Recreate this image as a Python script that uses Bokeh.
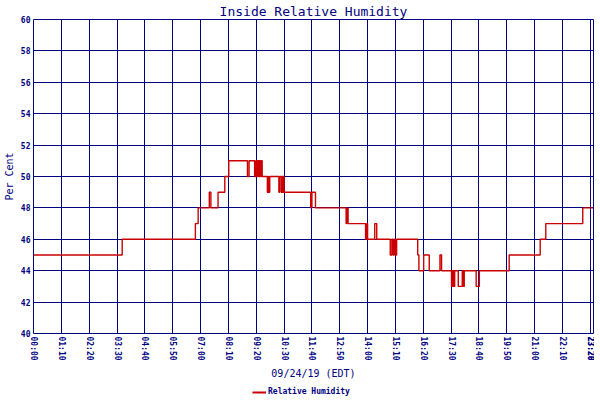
from bokeh.plotting import figure
from bokeh.layouts import column
from bokeh.models import Range1d, FixedTicker, Legend, LegendItem, ColumnDataSource
from bokeh.embed import file_html
from bokeh.resources import INLINE

# --- data ---
times = ["00:00", "03:43", "06:47", "06:54", "07:22", "07:26", "07:44", "08:01", "08:11",
         "08:58", "09:02", "09:16", "09:19", "09:22", "09:24", "09:27", "09:29", "09:31",
         "09:33", "09:35", "09:48", "09:51", "09:52", "09:54", "10:17", "10:19", "10:23",
         "10:25", "10:27", "10:28", "10:30", "11:37", "11:40", "11:49", "13:06", "13:09",
         "13:11", "13:55", "13:58", "14:00", "14:18", "14:23", "14:57", "15:01", "15:04",
         "15:07", "15:10", "15:13", "16:06", "16:09", "16:21", "16:35", "17:02", "17:06",
         "17:31", "17:33", "17:34", "17:36", "17:37", "17:39", "17:48", "17:58", "18:01",
         "18:03", "18:33", "18:41", "19:56", "21:14", "21:28", "23:01", "23:28"]
humidity = [45, 46, 47, 48, 49, 48, 49, 50, 51,
            50, 51, 50, 51, 50, 51, 50, 51, 50,
            51, 50, 49, 50, 49, 50, 49, 50, 49,
            50, 49, 50, 49, 48, 49, 48, 47, 48,
            47, 46, 47, 46, 47, 46, 45, 46, 45,
            46, 45, 46, 45, 44, 45, 44, 45, 44,
            43, 44, 43, 44, 43, 44, 43, 44, 43,
            44, 43, 44, 45, 46, 47, 48, 48]
tick_labels = ["00:00", "01:10", "02:20", "03:30", "04:40", "05:50", "07:00", "08:10",
               "09:20", "10:30", "11:40", "12:50", "14:00", "15:10", "16:20", "17:30",
               "18:40", "19:50", "21:00", "22:10", "23:20", "23:28"]
y_ticks = [40, 42, 44, 46, 48, 50, 52, 54, 56, 58, 60]
series_name = "Relative Humidity"
title_text = "Inside Relative Humidity"
x_title = "09/24/19 (EDT)"
y_title = "Per Cent"


def to_min(s):
    h, m = s.split(":")
    return int(h) * 60 + int(m)


NAVY = "#000080"
RED = "#CC0000"
MONO = "DejaVu Sans Mono"

src = ColumnDataSource(dict(t=[to_min(s) for s in times], v=humidity))
tick_pos = [to_min(s) for s in tick_labels]

p = figure(frame_width=560, frame_height=314, output_backend="svg", toolbar_location=None,
           x_range=Range1d(tick_pos[0], tick_pos[-1]), y_range=Range1d(y_ticks[0], y_ticks[-1]),
           min_border_left=0, min_border_right=1, min_border_top=0, min_border_bottom=0,
           background_fill_color="white", border_fill_color="white")

p.title.text = title_text
p.title.align = "center"
p.title.text_font = MONO
p.title.text_font_size = "13px"
p.title.text_font_style = "normal"
p.title.text_color = NAVY
p.title.standoff = 2

p.outline_line_color = NAVY
p.outline_line_width = 1
p.outline_line_alpha = 1

for g in (p.xgrid, p.ygrid):
    g.grid_line_color = NAVY
    g.grid_line_width = 1
    g.grid_line_alpha = 1
p.xgrid.ticker = FixedTicker(ticks=tick_pos)
p.ygrid.ticker = FixedTicker(ticks=y_ticks)

xa = p.xaxis[0]
xa.ticker = FixedTicker(ticks=tick_pos)
xa.major_label_overrides = {pos: lab for pos, lab in zip(tick_pos, tick_labels)}
xa.major_label_orientation = "vertical"
xa.axis_label = x_title

ya = p.yaxis[0]
ya.ticker = FixedTicker(ticks=y_ticks)
ya.axis_label = y_title

for ax in (xa, ya):
    ax.axis_line_color = None
    ax.major_tick_line_color = None
    ax.minor_tick_line_color = None
    ax.major_tick_in = 0
    ax.major_tick_out = 0
    ax.minor_tick_in = 0
    ax.minor_tick_out = 0
    ax.major_label_text_font = MONO
    ax.major_label_text_font_size = "8px"
    ax.major_label_text_font_style = "bold"
    ax.major_label_text_color = NAVY
    ax.major_label_standoff = 3
    ax.axis_label_text_font = MONO
    ax.axis_label_text_font_size = "10px"
    ax.axis_label_text_font_style = "normal"
    ax.axis_label_text_color = NAVY
    ax.axis_label_standoff = 3
xa.axis_label_standoff = 4

p.step(x="t", y="v", source=src, mode="after", line_color=RED, line_width=1.4)

# legend strip below the chart (its series renderer is kept out of view)
lg = figure(width=590, height=16, output_backend="svg", toolbar_location=None,
            x_axis_type=None, y_axis_type=None, min_border=0,
            x_range=Range1d(tick_pos[0], tick_pos[-1]), y_range=Range1d(0, 1),
            outline_line_color=None, background_fill_color="white", border_fill_color="white")
sample = lg.step(x="t", y="v", source=src, mode="after", line_color=RED, line_width=2)
legend = Legend(items=[LegendItem(label=series_name, renderers=[sample])],
                location=(218, 0), orientation="horizontal",
                border_line_alpha=0, background_fill_alpha=0,
                label_text_font=MONO, label_text_font_size="8px",
                label_text_font_style="bold", label_text_color=NAVY,
                glyph_width=14, glyph_height=8, label_height=8,
                padding=1, margin=0, spacing=0, label_standoff=2)
lg.add_layout(legend, "center")

open("out.html", "w").write(file_html(column(p, lg), INLINE))
